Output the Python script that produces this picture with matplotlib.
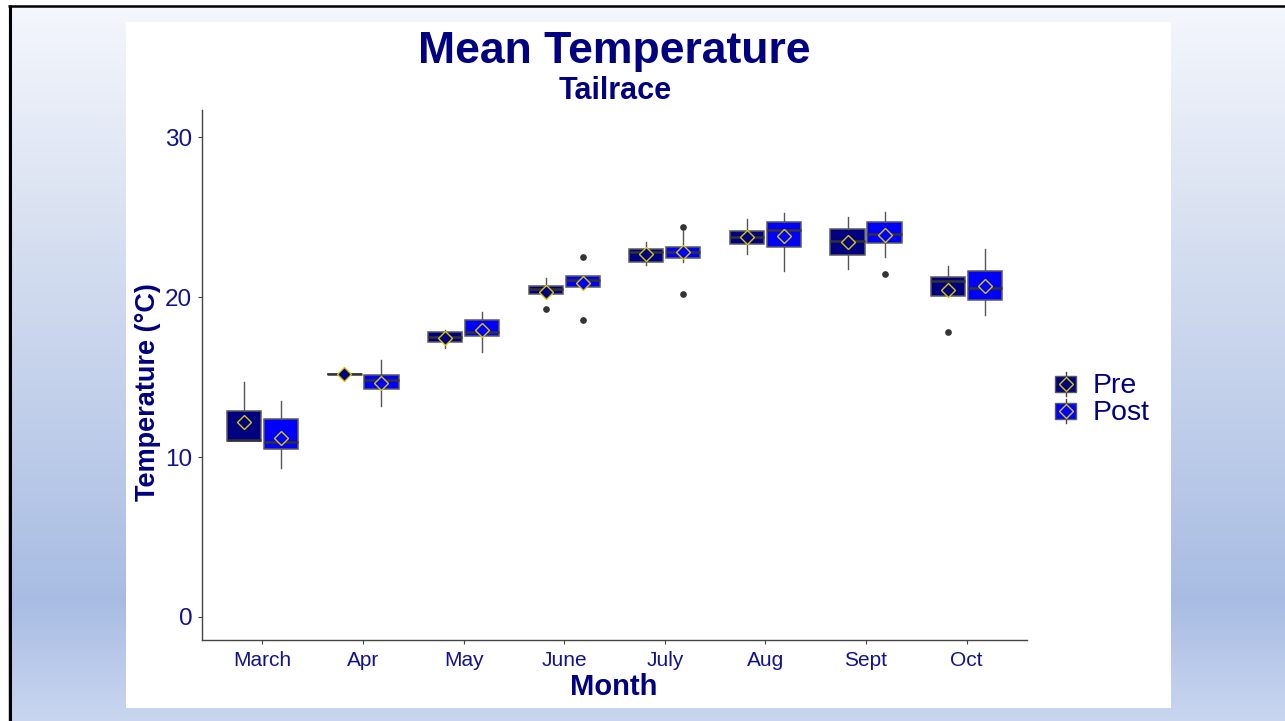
import numpy as np
import matplotlib
matplotlib.use("Agg")
import matplotlib.pyplot as plt
from matplotlib.patches import Rectangle

plt.rcParams["font.family"] = ["Liberation Sans", "DejaVu Sans"]

# Data
months = ["March", "Apr", "May", "June", "July", "Aug", "Sept", "Oct"]

pre_q1 = [11.0, 15.19, 17.2, 20.17, 22.21, 23.31, 22.63, 20.06]
pre_med = [11.06, 15.19, 17.5, 20.48, 22.79, 23.75, 23.52, 21.0]
pre_q3 = [12.88, 15.19, 17.8, 20.67, 23.0, 24.15, 24.27, 21.23]
pre_lo = [11.0, 15.19, 16.8, 20.17, 21.98, 22.69, 21.77, 20.06]
pre_hi = [14.7, 15.19, 17.95, 21.19, 23.42, 24.9, 24.98, 21.96]
pre_mean = [12.2, 15.19, 17.45, 20.33, 22.67, 23.75, 23.42, 20.45]
pre_out = [[], [], [], [19.25], [], [], [], [17.83]]

post_q1 = [10.5, 14.23, 17.55, 20.65, 22.42, 23.12, 23.4, 19.81]
post_med = [10.96, 14.8, 17.8, 21.06, 22.83, 24.17, 23.96, 20.56]
post_q3 = [12.35, 15.12, 18.55, 21.31, 23.15, 24.69, 24.69, 21.65]
post_lo = [9.3, 13.19, 16.55, 20.65, 22.2, 21.65, 22.48, 18.87]
post_hi = [13.5, 16.06, 19.05, 21.31, 24.15, 25.27, 25.33, 23.0]
post_mean = [11.2, 14.65, 17.95, 20.9, 22.8, 23.81, 23.9, 20.7]
post_out = [[], [], [], [22.5, 18.56], [24.38, 20.17], [], [21.44], []]

yticks = [0, 10, 20, 30]

W, H = 1285, 721
NAVY = "#000080"
BLUE = "#0000ff"
TXT = "#12128e"
DIAM_EDGE = "#d8c800"

fig = plt.figure(figsize=(W / 100, H / 100), dpi=100)

# slide background gradient
bg = fig.add_axes([0, 0, 1, 1], zorder=-10)
rows = np.arange(H)
stops_y = [0, 200, 600, 721]
stops_c = np.array([[0.96, 0.97, 0.99], [0.86, 0.89, 0.95],
                    [0.66, 0.74, 0.89], [0.79, 0.84, 0.94]])
grad = np.stack([np.interp(rows, stops_y, stops_c[:, i]) for i in range(3)], axis=1)
bg.imshow(grad[:, None, :], aspect="auto", extent=[0, W, H, 0])
bg.set_xlim(0, W)
bg.set_ylim(H, 0)
bg.axis("off")
bg.add_patch(Rectangle((0, 0), 8, H, color="white", lw=0))
bg.add_patch(Rectangle((0, 0), W, 5, color="white", lw=0))
bg.add_patch(Rectangle((126, 22), 1171 - 126, 708 - 22, color="white", lw=0))
bg.plot([9.5, 9.5], [5, H], color="black", lw=2.2, solid_capstyle="butt")
bg.plot([8, W], [6, 6], color="black", lw=1.8, solid_capstyle="butt")

# main axes
ax = fig.add_axes([202 / W, 1 - 640 / H, 825 / W, 530 / H])
ax.set_facecolor("none")


def make_stats(q1, med, q3, lo, hi, mean, out):
    return [dict(q1=a, med=b, q3=c, whislo=d, whishi=e, mean=f, fliers=g)
            for a, b, c, d, e, f, g in zip(q1, med, q3, lo, hi, mean, out)]


x = np.arange(1, len(months) + 1)
off = 0.184
for stats, color, pos in [
    (make_stats(pre_q1, pre_med, pre_q3, pre_lo, pre_hi, pre_mean, pre_out), NAVY, x - off),
    (make_stats(post_q1, post_med, post_q3, post_lo, post_hi, post_mean, post_out), BLUE, x + off),
]:
    ax.bxp(stats, positions=pos, widths=0.34, patch_artist=True, showcaps=False,
           showmeans=True, manage_ticks=False,
           boxprops=dict(facecolor=color, edgecolor="#5a5a5a", lw=1.1),
           medianprops=dict(color="#333333", lw=1.8),
           whiskerprops=dict(color="#555555", lw=1.0),
           flierprops=dict(marker="o", markerfacecolor="#333333",
                           markeredgecolor="#333333", markersize=3.8),
           meanprops=dict(marker="D", markerfacecolor=color,
                          markeredgecolor=DIAM_EDGE, markersize=7, markeredgewidth=1.0))

ax.set_xlim(0.4, 8.6)
ax.set_ylim(-1.44, 31.7)
ax.set_xticks(x)
ax.set_xticklabels(months)
ax.set_yticks(yticks)
for s in ["top", "right"]:
    ax.spines[s].set_visible(False)
for s in ["left", "bottom"]:
    ax.spines[s].set_color("#444444")
    ax.spines[s].set_linewidth(1.0)
ax.tick_params(axis="both", colors="#444444", length=3, width=0.8)
ax.tick_params(axis="y", labelsize=17.5, labelcolor=TXT, pad=4)
ax.tick_params(axis="x", labelsize=15, labelcolor=TXT, pad=5)

# titles and labels
fig.text(614 / W, 1 - 52 / H, "Mean Temperature", ha="center", va="center",
         fontsize=32, fontweight="bold", color=NAVY)
fig.text(615 / W, 1 - 91 / H, "Tailrace", ha="center", va="center",
         fontsize=22, fontweight="bold", color=NAVY)
fig.text(148 / W, 1 - 392 / H, "Temperature (°C)", ha="center", va="center",
         rotation=90, fontsize=19.5, fontweight="bold", color=NAVY)
fig.text(614 / W, 1 - 687 / H, "Month", ha="center", va="center",
         fontsize=21, fontweight="bold", color=NAVY)

# legend keys
for label, color, yc in [("Pre", NAVY, 384), ("Post", BLUE, 411)]:
    bg.add_patch(Rectangle((1055, yc - 8), 21, 16, facecolor=color,
                           edgecolor="#5a5a5a", lw=1.0, zorder=3))
    bg.plot([1065.5, 1065.5], [yc - 12, yc + 12], color="#444444", lw=1.0, zorder=2)
    bg.plot([1065.5], [yc], marker="D", markerfacecolor=color,
            markeredgecolor=DIAM_EDGE, markersize=7, markeredgewidth=1.0, zorder=4)
    bg.text(1093, yc + 2, label, ha="left", va="center", fontsize=20.5, color=NAVY)

fig.savefig("out.png", dpi=100)
